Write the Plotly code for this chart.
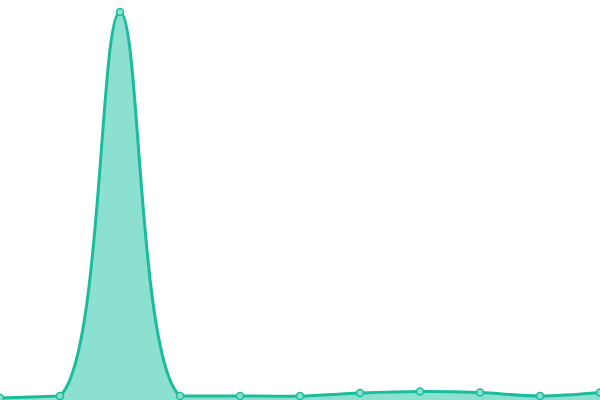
import plotly.graph_objects as go

# values (arbitrary units, pixel-scaled)
labels = ["0", "1", "2", "3", "4", "5", "6", "7", "8", "9", "10"]
values = [2, 4, 388, 4, 4, 4, 7, 8.5, 7.5, 4, 7.5]

line_color = "#1abc9c"
fill_color = "#8ce0d0"
x = list(range(len(labels)))
n = len(labels) - 1

fig = go.Figure()
# flat parts either side of the spike, on the main axes
for start, stop in [(0, 2), (3, 11)]:
    fig.add_trace(go.Scatter(
        x=x[start:stop], y=values[start:stop], mode="lines",
        line=dict(color=line_color, width=3, shape="spline", smoothing=1),
        fill="tozeroy", fillcolor=fill_color, hoverinfo="skip",
    ))
# the spike: full spline through its neighbours, but shown only between
# points 1 and 3 (a second x axis with the same scale clips the dips)
fig.add_trace(go.Scatter(
    x=x[0:5], y=values[0:5], mode="lines", xaxis="x2",
    line=dict(color=line_color, width=3, shape="spline", smoothing=1),
    fill="tozeroy", fillcolor=fill_color, hoverinfo="skip",
))
# point markers on top of everything
fig.add_trace(go.Scatter(
    x=x, y=values, mode="markers", xaxis="x3",
    marker=dict(size=7, color="#8ae0d0", line=dict(color=line_color, width=1.5)),
    hoverinfo="skip",
))

fig.update_layout(
    width=600, height=400,
    margin=dict(l=0, r=0, t=0, b=0),
    paper_bgcolor="white", plot_bgcolor="rgba(0,0,0,0)",
    showlegend=False,
    xaxis=dict(visible=False, range=[0, n], domain=[0, 1]),
    xaxis2=dict(visible=False, range=[1, 3], domain=[1 / n, 3 / n], anchor="y"),
    xaxis3=dict(visible=False, range=[0, n], domain=[0, 1], anchor="y"),
    yaxis=dict(visible=False, range=[0, 400]),
)
# drop the default body margin so the chart sits flush in the window
fig.write_html("out.html", config={"displayModeBar": False},
               post_script="document.body.style.margin='0';")
